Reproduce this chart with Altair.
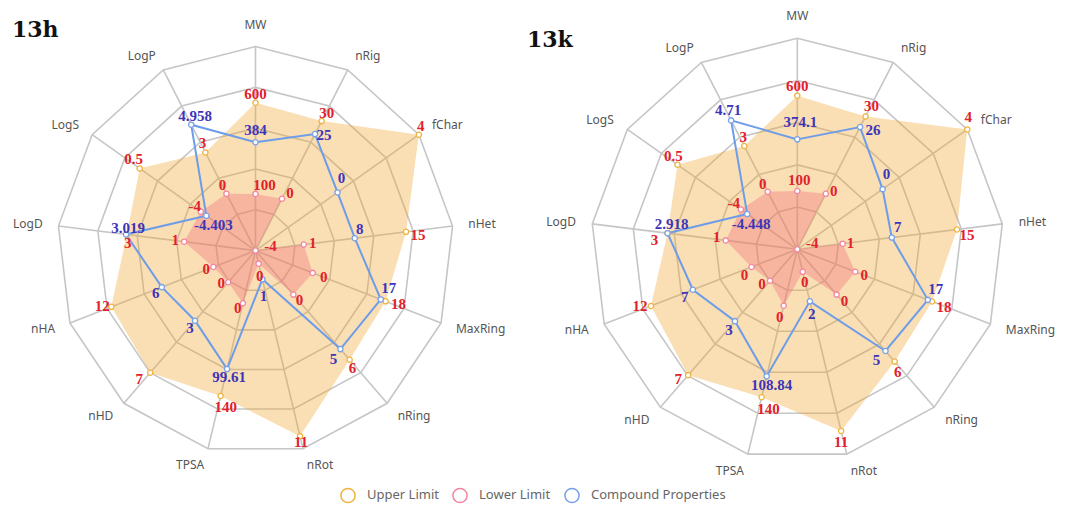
import altair as alt
import pandas as pd

# ---------------- data ----------------
axes = ["MW", "nRig", "fChar", "nHet", "MaxRing", "nRing", "nRot",
        "TPSA", "nHD", "nHA", "LogD", "LogS", "LogP"]
series_names = ["Upper Limit", "Lower Limit", "Compound Properties"]
chart_names = ["13h", "13k"]

upper_labels = ["600", "30", "4", "15", "18", "6", "11", "140", "7", "12", "3", "0.5", "3"]
lower_labels = ["100", "0", "-4", "1", "0", "0", "0", "0", "0", "0", "1", "-4", "0"]
h_compound_labels = ["384", "25", "0", "8", "17", "5", "1", "99.61", "3", "6", "3.019", "-4.403", "4.958"]
k_compound_labels = ["374.1", "26", "0", "7", "17", "5", "2", "108.84", "3", "7", "2.918", "-4.448", "4.71"]

# plotted (normalised, 0..1) radius of every point
h_upper_r = [0.725, 0.717, 1.0, 0.764, 0.701, 0.715, 0.937, 0.734, 0.80, 0.777, 0.653, 0.709, 0.543]
h_lower_r = [0.278, 0.287, 0.0, 0.245, 0.308, 0.288, 0.066, 0.266, 0.207, 0.227, 0.362, 0.335, 0.315]
h_compound_r = [0.531, 0.645, 0.502, 0.504, 0.675, 0.645, 0.145, 0.598, 0.459, 0.505, 0.657, 0.301, 0.697]
k_upper_r = [0.728, 0.711, 1.0, 0.779, 0.698, 0.711, 0.887, 0.722, 0.797, 0.758, 0.633, 0.705, 0.553]
k_lower_r = [0.276, 0.297, 0.0, 0.221, 0.300, 0.287, 0.11, 0.275, 0.199, 0.237, 0.349, 0.332, 0.308]
k_compound_r = [0.521, 0.654, 0.502, 0.461, 0.676, 0.644, 0.254, 0.62, 0.455, 0.541, 0.633, 0.295, 0.69]

grid_levels = [0.2, 0.4, 0.6, 0.8, 1.0]

# ---------------- style ----------------
# label offsets (px, dx right / dy down) of each value label from its point
h_up_off = [(0, -9), (5, -8), (2, -9), (12, 3), (13, 3), (3, 8), (1, 6), (5, 11), (-11, 6), (-9, -1), (1, 8), (-6, -9), (-3, -10)]
h_lo_off = [(9, -9), (8, -6), (15, -5), (9, -2), (11, 4), (6, 5), (1, 12), (-5, 5), (-7, 1), (-7, 2), (-9, -2), (-6, -6), (-4, -9)]
h_cp_off = [(0, -12), (9, 1), (4, -14), (5, -9), (8, -11), (-7, 10), (1, 17), (2, 8), (-5, 7), (-6, 6), (2, -6), (7, 9), (4, -9)]
k_up_off = [(0, -10), (6, -10), (1, -12), (10, 6), (12, 5), (3, 10), (0, 11), (7, 12), (-10, 4), (-11, 0), (-13, 7), (-4, -9), (-1, -9)]
k_lo_off = [(2, -11), (8, -3), (15, -6), (8, -1), (9, 3), (8, 6), (2, 10), (-4, 11), (-8, 3), (-7, 8), (-9, -3), (-7, -7), (-5, -8)]
k_cp_off = [(3, -17), (13, 3), (4, -15), (6, -11), (8, -11), (-9, 9), (2, 13), (5, 9), (-6, 9), (-8, 7), (4, -9), (4, 10), (-3, -10)]

GRID = "#c6c6c6"
ORANGE_FILL = "#f0a028"
PINK_FILL = "#f06478"
BLUE_LINE = "#6d9de8"
UP_C, LO_C, CP_C = "#f0b43c", "#f386a0", "#78a2e8"
RED_T, BLUE_T = "#e3202b", "#3d35b8"
NAME_C = "#555555"

W, H = 527, 492
PX = {"13h": (198.5, 204.0), "13k": (206.5, 211.0)}
XDOM = {"13h": [-1.2469, 1.4081], "13k": [-1.2702, 1.2818]}
YDOM = {"13h": [-1.2225, 1.1892], "13k": [-1.1882, 1.1436]}
TITLE_POS = {"13h": (4, 29), "13k": (-8, 39)}


def series_rows(labels_list, radii_list, offs_list):
    rows = []
    for s, labels, radii, offs in zip(series_names, labels_list, radii_list, offs_list):
        for i in range(len(axes)):
            rows.append(dict(series=s, idx=i, label=labels[i], r=radii[i],
                             ox=offs[i][0], oy=offs[i][1]))
    return pd.DataFrame(rows)


data = {
    "13h": series_rows([upper_labels, lower_labels, h_compound_labels],
                       [h_upper_r, h_lower_r, h_compound_r], [h_up_off, h_lo_off, h_cp_off]),
    "13k": series_rows([upper_labels, lower_labels, k_compound_labels],
                       [k_upper_r, k_lower_r, k_compound_r], [k_up_off, k_lo_off, k_cp_off]),
}
axis_df = pd.DataFrame({"idx": list(range(len(axes))), "axis": axes})
grid_df = pd.DataFrame([dict(lv=lv, idx=i) for lv in grid_levels for i in range(len(axes))])

legend_obj = alt.Legend(
    title=None, orient="none", legendX=332, legendY=479, direction="horizontal",
    symbolType="circle", symbolSize=200, symbolStrokeWidth=1.5, symbolFillColor="white",
    symbolOpacity=1, labelFont="Noto Sans", labelFontSize=13, labelColor="#666666",
    labelOffset=11, columnPadding=10, padding=0,
)

ANG = "(datum.idx * 2 * PI / 13)"


def panel(chart):
    kx, ky = PX[chart]
    df = data[chart]

    def X(f):
        return alt.X(f"{f}:Q", scale=alt.Scale(domain=XDOM[chart], nice=False, zero=False), axis=None)

    def Y(f):
        return alt.Y(f"{f}:Q", scale=alt.Scale(domain=YDOM[chart], nice=False, zero=False), axis=None)

    grid = alt.Chart(grid_df).transform_calculate(
        x=f"datum.lv * sin({ANG})", y=f"datum.lv * cos({ANG})"
    ).mark_line(interpolate="linear-closed", stroke=GRID, strokeWidth=1.6).encode(
        x=X("x"), y=Y("y"), detail="lv:N", order="idx:Q")

    spokes = alt.Chart(axis_df).transform_calculate(
        x0="0", y0="0", x1=f"sin({ANG})", y1=f"cos({ANG})"
    ).mark_rule(stroke=GRID, strokeWidth=1.6).encode(
        x=X("x0"), y=Y("y0"), x2="x1:Q", y2="y1:Q")

    pts = alt.Chart(df).transform_calculate(
        x=f"datum.r * sin({ANG})",
        y=f"datum.r * cos({ANG})",
        lx=f"datum.r * sin({ANG}) + datum.ox / {kx}",
        ly=f"datum.r * cos({ANG}) - datum.oy / {ky}",
    )

    upper_fill = pts.transform_filter("datum.series == 'Upper Limit'").mark_line(
        interpolate="linear-closed", fill=ORANGE_FILL, fillOpacity=0.35, strokeWidth=0
    ).encode(x=X("x"), y=Y("y"), order="idx:Q")

    lower_fill = pts.transform_filter("datum.series == 'Lower Limit'").mark_line(
        interpolate="linear-closed", fill=PINK_FILL, fillOpacity=0.34, strokeWidth=0
    ).encode(x=X("x"), y=Y("y"), order="idx:Q")

    comp_line = pts.transform_filter("datum.series == 'Compound Properties'").mark_line(
        interpolate="linear-closed", stroke=BLUE_LINE, strokeWidth=2
    ).encode(x=X("x"), y=Y("y"), order="idx:Q")

    markers = pts.mark_point(
        shape="circle", filled=False, fill="white", fillOpacity=1, size=28,
        strokeWidth=1.3, opacity=1
    ).encode(
        x=X("x"), y=Y("y"),
        stroke=alt.Stroke("series:N", sort=series_names,
                          scale=alt.Scale(domain=series_names, range=[UP_C, LO_C, CP_C]),
                          legend=legend_obj),
    )

    labels = pts.mark_text(
        font="Liberation Serif", fontWeight="bold", fontSize=15, align="center", baseline="middle"
    ).encode(
        x=X("lx"), y=Y("ly"), text="label:N",
        color=alt.condition("datum.series == 'Compound Properties'", alt.value(BLUE_T), alt.value(RED_T)),
    )

    names = alt.Chart(axis_df).transform_calculate(
        x=f"1.08 * sin({ANG})",
        y=f"1.08 * cos({ANG}) + (datum.idx == 0 ? {5.5 / ky} : 0)",
    )
    name_kw = dict(font="Noto Sans", fontSize=12, color=NAME_C, baseline="middle")
    names_c = names.transform_filter("datum.idx == 0").mark_text(align="center", **name_kw).encode(
        x=X("x"), y=Y("y"), text="axis:N")
    names_l = names.transform_filter("datum.idx >= 1 && datum.idx <= 6").mark_text(align="left", **name_kw).encode(
        x=X("x"), y=Y("y"), text="axis:N")
    names_r = names.transform_filter("datum.idx >= 7").mark_text(align="right", **name_kw).encode(
        x=X("x"), y=Y("y"), text="axis:N")

    tx, ty = TITLE_POS[chart]
    title = alt.Chart(pd.DataFrame({"t": [chart]})).mark_text(
        align="left", baseline="alphabetic", font="DejaVu Serif", fontWeight="bold",
        fontSize=22, color="#111111"
    ).encode(text="t:N", x=alt.value(tx), y=alt.value(ty))

    return alt.layer(
        grid, spokes, upper_fill, lower_fill, comp_line, markers, labels,
        names_c, names_l, names_r, title
    ).properties(width=W, height=H)


chart = alt.hconcat(panel("13h"), panel("13k"), spacing=0, bounds="flush").properties(
    padding=0
).configure_view(strokeWidth=0)

chart.save("out.html", embed_options={"renderer": "svg", "actions": False})
